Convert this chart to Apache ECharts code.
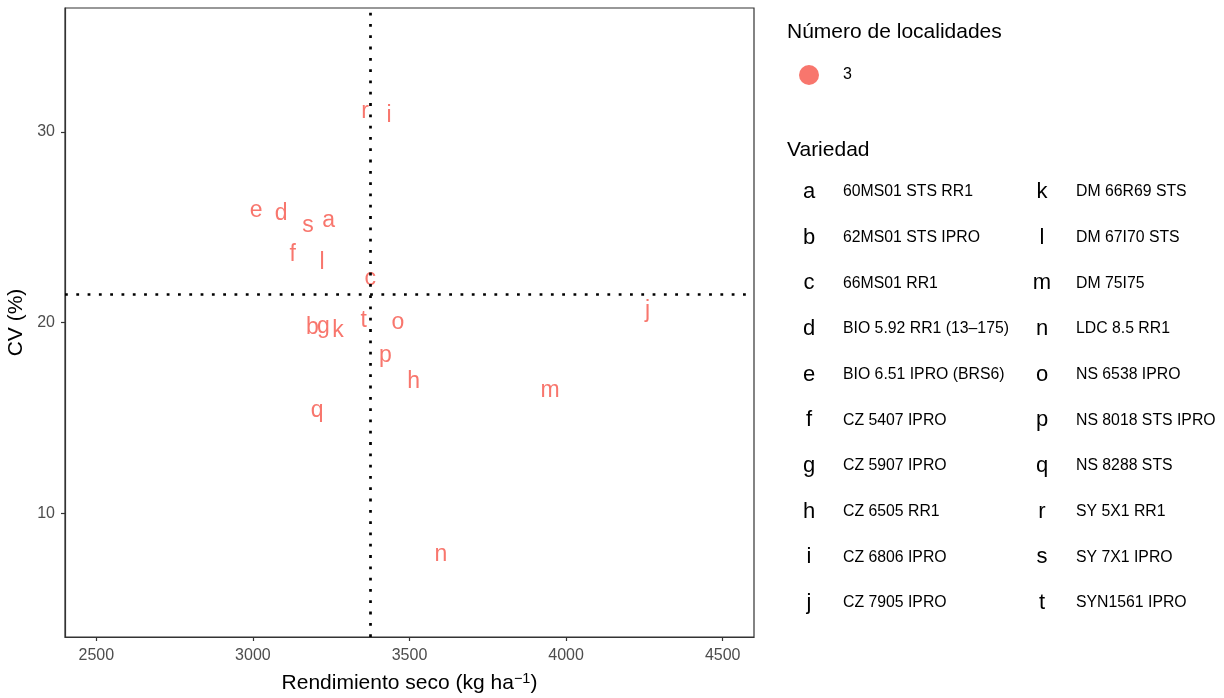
<!DOCTYPE html>
<html>
<head>
<meta charset="utf-8">
<script src="https://cdn.jsdelivr.net/npm/echarts@6/dist/echarts.min.js"></script>
<style>
html,body{margin:0;padding:0;background:#fff;}
#chart{width:1224px;height:698px;}
</style>
</head>
<body>
<div id="chart"></div>
<script>
// ---- data ----
const letters = ['a','b','c','d','e','f','g','h','i','j','k','l','m','n','o','p','q','r','s','t'];
const varieties = ['60MS01 STS RR1','62MS01 STS IPRO','66MS01 RR1','BIO 5.92 RR1 (13\u2013175)','BIO 6.51 IPRO (BRS6)',
  'CZ 5407 IPRO','CZ 5907 IPRO','CZ 6505 RR1','CZ 6806 IPRO','CZ 7905 IPRO',
  'DM 66R69 STS','DM 67I70 STS','DM 75I75','LDC 8.5 RR1','NS 6538 IPRO',
  'NS 8018 STS IPRO','NS 8288 STS','SY 5X1 RR1','SY 7X1 IPRO','SYN1561 IPRO'];
const yieldKg = [3242,3190,3375,3090,3010,3127,3225,3513,3435,4260,3272,3221,3949,3600,3463,3423,3205,3358,3176,3354];
const cvPct   = [25.5,19.85,22.44,25.85,26.02,23.7,19.92,17.02,31.0,20.76,19.71,23.26,16.56,7.96,20.11,18.4,15.48,31.21,25.23,20.23];
const xTicks = [2500,3000,3500,4000,4500];
const yTicks = [10,20,30];
const meanYield = 3376;
const meanCV = 21.5;
const localityLevels = ['3'];

// ---- style ----
const FONT = "'Liberation Sans', Arial, Helvetica, sans-serif";
const PT_COLOR = '#F8766D';

const chart = echarts.init(document.getElementById('chart'), null, {renderer:'canvas'});

const seriesData = yieldKg.map((x,i)=>[x, cvPct[i], letters[i]]);

// legend graphics built from arrays
const graphics = [];
graphics.push({type:'text', x:787, y:32, style:{text:'Número de localidades', font:'21px '+FONT, fill:'#000', verticalAlign:'middle'}});
localityLevels.forEach((lv,i)=>{
  graphics.push({type:'circle', shape:{cx:809, cy:75 + i*30, r:10}, style:{fill:PT_COLOR}});
  graphics.push({type:'text', x:843, y:75 + i*30, style:{text:lv, font:'16px '+FONT, fill:'#000', verticalAlign:'middle'}});
});
graphics.push({type:'text', x:787, y:150, style:{text:'Variedad', font:'21px '+FONT, fill:'#000', verticalAlign:'middle'}});
const rowsPerCol = 10;
letters.forEach((l,i)=>{
  const col = Math.floor(i/rowsPerCol), row = i % rowsPerCol;
  const cy = 192 + row*45.67;
  const lx = col===0 ? 809 : 1042;
  const tx = col===0 ? 843 : 1076;
  graphics.push({type:'text', x:lx, y:cy, style:{text:l, font:'22px '+FONT, fill:'#000', align:'center', verticalAlign:'middle'}});
  graphics.push({type:'text', x:tx, y:cy, style:{text:varieties[i], font:'15.8px '+FONT, fill:'#000', verticalAlign:'middle'}});
});

const dotted = {color:'#000', width:2.7, type:[2.8,8.5], cap:'butt'};

chart.setOption({
  animation:false,
  backgroundColor:'#fff',
  textStyle:{fontFamily:FONT},
  grid:{left:65, top:8, width:689, height:629, show:true, borderColor:'#333333', borderWidth:1.2, containLabel:false, outerBoundsMode:'none'},
  xAxis:{
    type:'value', min:2400, max:4600,
    name:'Rendimiento seco (kg ha{sup|\u22121})',
    nameLocation:'middle', nameGap:34,
    nameTextStyle:{fontSize:21, color:'#000', fontFamily:FONT,
      rich:{sup:{fontSize:14.5, color:'#000', fontFamily:FONT, verticalAlign:'top', padding:[0,0,10,0]}}},
    axisLine:{show:true, lineStyle:{color:'#333333', width:1.2}},
    axisTick:{show:true, length:4, lineStyle:{color:'#333333', width:1.2}, customValues:xTicks},
    axisLabel:{fontSize:16, color:'#4D4D4D', margin:11, customValues:xTicks, formatter:function(v){return String(v);}},
    splitLine:{show:false}
  },
  yAxis:{
    type:'value', min:3.5, max:36.5,
    name:'CV (%)', nameLocation:'middle', nameGap:29, nameRotate:90,
    nameTextStyle:{fontSize:21, color:'#000', fontFamily:FONT},
    axisLine:{show:true, lineStyle:{color:'#333333', width:1.2}},
    axisTick:{show:true, length:4, lineStyle:{color:'#333333', width:1.2}, customValues:yTicks},
    axisLabel:{fontSize:16, color:'#4D4D4D', margin:10, customValues:yTicks, formatter:function(v){return String(v);}},
    splitLine:{show:false}
  },
  graphic:graphics,
  series:[
    {
      type:'custom',
      data:seriesData,
      z:2,
      renderItem:function(params, api){
        const p = api.coord([api.value(0), api.value(1)]);
        return {type:'text', x:p[0], y:p[1] + 2.5,
          style:{text:letters[params.dataIndex], font:'23px '+FONT, fill:PT_COLOR, align:'center', verticalAlign:'middle'}};
      }
    },
    {
      type:'line', data:[], z:5,
      markLine:{silent:true, symbol:['none','none'], label:{show:false}, lineStyle:dotted,
        emphasis:{disabled:true},
        data:[{xAxis:meanYield}, {yAxis:meanCV}]}
    }
  ]
});
</script>
</body>
</html>
